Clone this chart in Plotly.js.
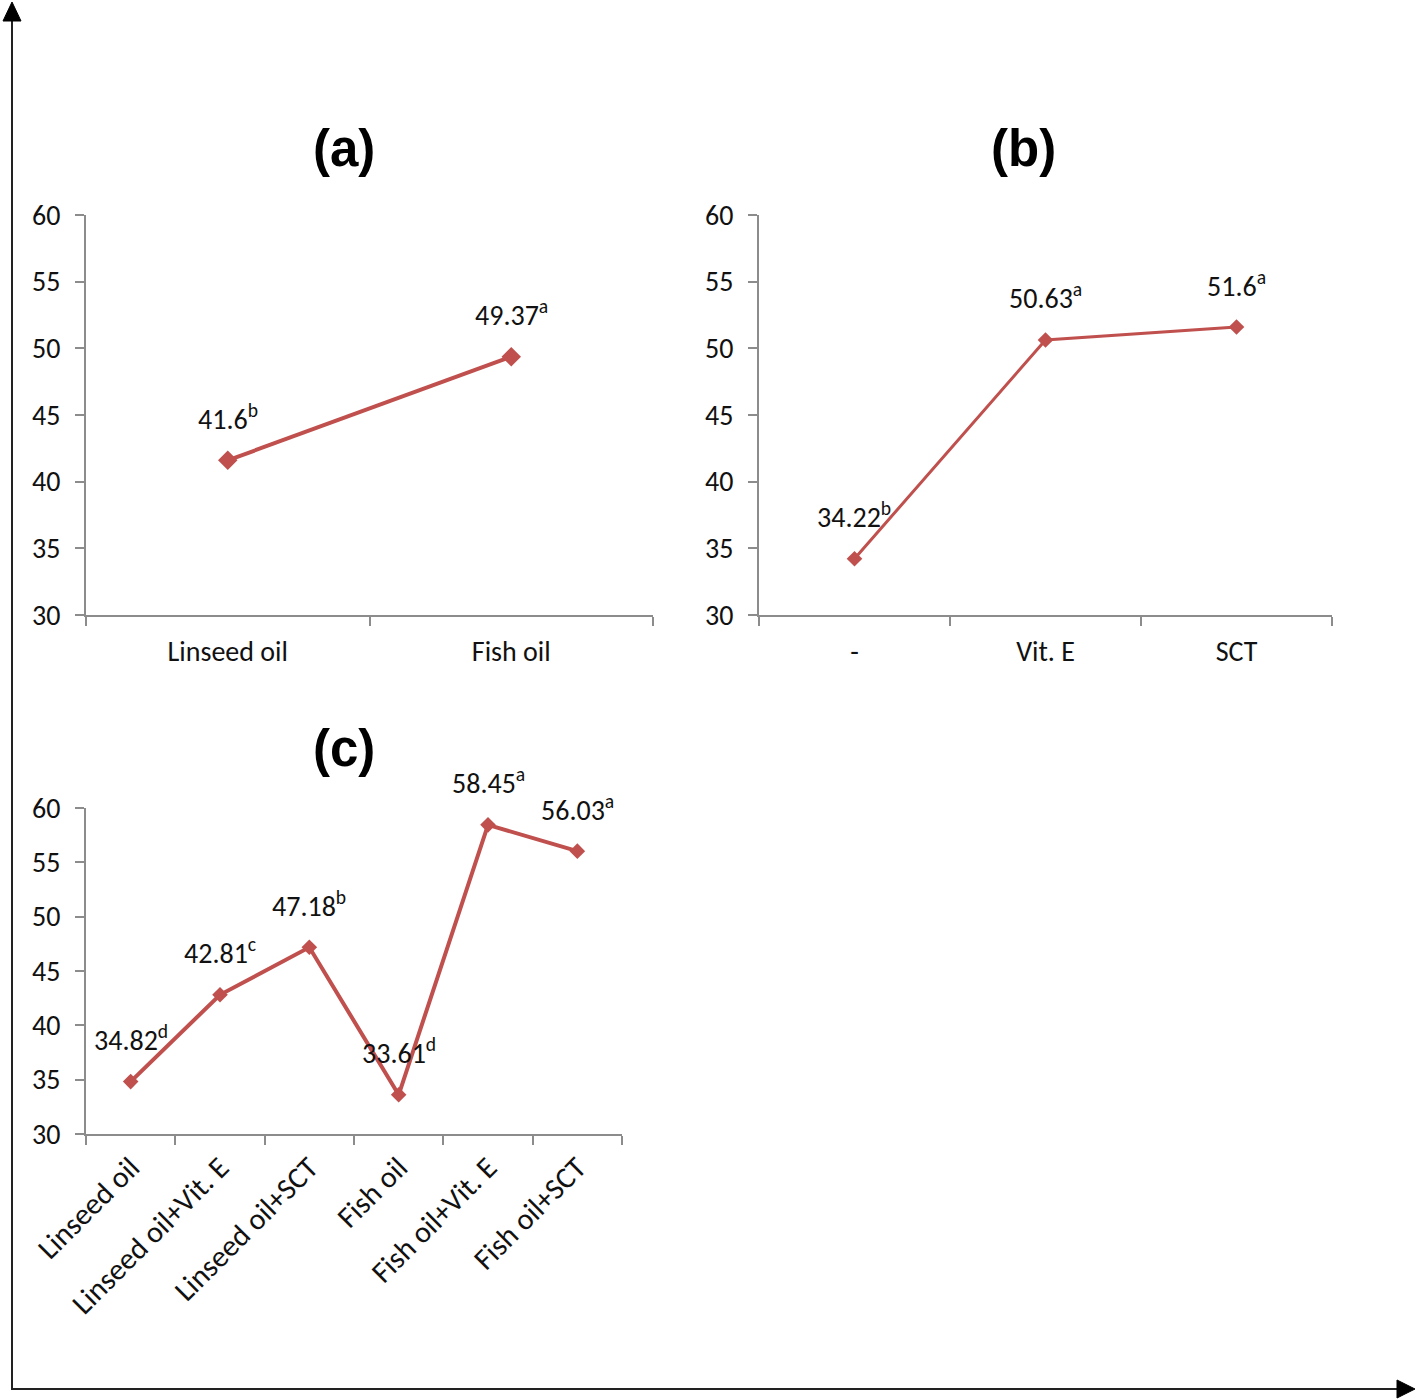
<!DOCTYPE html>
<html>
<head>
<meta charset="utf-8">
<script src="https://cdn.plot.ly/plotly-3.0.1.min.js"></script>
<style>html,body{margin:0;padding:0;background:#fff;}</style>
</head>
<body>
<div id="chart" style="width:1418px;height:1400px;"></div>
<script>
const catsA = ['Linseed oil', 'Fish oil'];
const valsA = [41.6, 49.37];
const lettersA = ['b', 'a'];

const catsB = ['-', 'Vit. E', 'SCT'];
const valsB = [34.22, 50.63, 51.6];
const lettersB = ['b', 'a', 'a'];

const catsC = ['Linseed oil', 'Linseed oil+Vit. E', 'Linseed oil+SCT', 'Fish oil', 'Fish oil+Vit. E', 'Fish oil+SCT'];
const valsC = [34.82, 42.81, 47.18, 33.61, 58.45, 56.03];
const lettersC = ['d', 'c', 'b', 'd', 'a', 'a'];

const yTicks = [30, 35, 40, 45, 50, 55, 60];
const panelTitles = ['(a)', '(b)', '(c)'];

const W = 1418, H = 1400;
const px = v => v / W;
const py = v => 1 - v / H;

const RED = '#C0504D';
const AXC = '#8c8c8c';
const FONT = 'Carlito, Calibri, Lato, sans-serif';

function trace(cats, vals, xa, ya, msize, lw) {
  return {
    type: 'scatter', mode: 'lines+markers',
    x: cats, y: vals, xaxis: xa, yaxis: ya,
    line: {color: RED, width: lw},
    marker: {symbol: 'diamond', size: msize, color: RED},
    hoverinfo: 'x+y', showlegend: false
  };
}

const data = [
  trace(catsA, valsA, 'x', 'y', 15, 4),
  trace(catsB, valsB, 'x2', 'y2', 12, 3),
  trace(catsC, valsC, 'x3', 'y3', 12, 4)
];

function xax(domain, cats, angle) {
  return {
    domain: domain, type: 'category', range: [-0.5, cats.length - 0.5],
    showline: true, linecolor: AXC, linewidth: 2,
    ticks: 'outside', tickson: 'boundaries', ticklen: 9, tickcolor: AXC, tickwidth: 2,
    showgrid: false, zeroline: false, fixedrange: true,
    tickangle: angle, ticklabelstandoff: angle ? 2 : 10,
    tickfont: {family: FONT, size: angle ? 30 : 28, color: '#111'}
  };
}
function yax(domain, anchor) {
  return {
    domain: domain, anchor: anchor, range: [30, 60],
    tickvals: yTicks, ticktext: yTicks.map(String),
    showline: true, linecolor: AXC, linewidth: 2,
    ticks: 'outside', ticklen: 9, tickcolor: AXC, tickwidth: 2,
    showgrid: false, zeroline: false, fixedrange: true,
    ticklabelstandoff: 9,
    tickfont: {family: FONT, size: 28, color: '#111'}
  };
}

const annotations = [];
function labels(cats, vals, letters, xr, yr) {
  cats.forEach((c, i) => {
    annotations.push({
      xref: xr, yref: yr, x: c, y: vals[i], yshift: 43,
      text: vals[i] + '<sup>' + letters[i] + '</sup>', showarrow: false,
      font: {family: FONT, size: 28, color: '#111'}
    });
  });
}
labels(catsA, valsA, lettersA, 'x', 'y');
labels(catsB, valsB, lettersB, 'x2', 'y2');
labels(catsC, valsC, lettersC, 'x3', 'y3');

const titlePos = [[344, 148], [1023, 148], [344, 748]];
panelTitles.forEach((t, i) => {
  annotations.push({
    xref: 'paper', yref: 'paper', x: px(titlePos[i][0]), y: py(titlePos[i][1]),
    text: '<b>' + t + '</b>', showarrow: false,
    xanchor: 'center', yanchor: 'middle',
    font: {family: 'Liberation Sans, Arial, sans-serif', size: 51, color: '#000'}
  });
});

const shapes = [
  {type: 'line', xref: 'paper', yref: 'paper', x0: px(12), x1: px(12), y0: py(1389), y1: py(14), line: {color: '#222', width: 2}},
  {type: 'line', xref: 'paper', yref: 'paper', x0: px(11), x1: px(1402), y0: py(1389), y1: py(1389), line: {color: '#222', width: 2}},
  {type: 'path', xref: 'paper', yref: 'paper',
   path: `M ${px(3)} ${py(21)} L ${px(12)} ${py(2)} L ${px(21)} ${py(21)} Z`,
   fillcolor: '#000', line: {color: '#000', width: 1}},
  {type: 'path', xref: 'paper', yref: 'paper',
   path: `M ${px(1397)} ${py(1380)} L ${px(1415)} ${py(1389)} L ${px(1397)} ${py(1398)} Z`,
   fillcolor: '#000', line: {color: '#000', width: 1}}
];

const layout = {
  width: W, height: H,
  margin: {l: 0, r: 0, t: 0, b: 0},
  paper_bgcolor: '#fff', plot_bgcolor: 'rgba(0,0,0,0)',
  showlegend: false,
  xaxis: xax([px(86), px(653)], catsA, 0),
  yaxis: yax([py(615), py(215)], 'x'),
  xaxis2: Object.assign(xax([px(759), px(1332)], catsB, 0), {anchor: 'y2'}),
  yaxis2: yax([py(615), py(215)], 'x2'),
  xaxis3: Object.assign(xax([px(86), px(622)], catsC, -45), {anchor: 'y3'}),
  yaxis3: yax([py(1134), py(808)], 'x3'),
  annotations: annotations,
  shapes: shapes
};
layout.xaxis.anchor = 'y';

Plotly.newPlot('chart', data, layout, {displayModeBar: false, staticPlot: true});
</script>
</body>
</html>
